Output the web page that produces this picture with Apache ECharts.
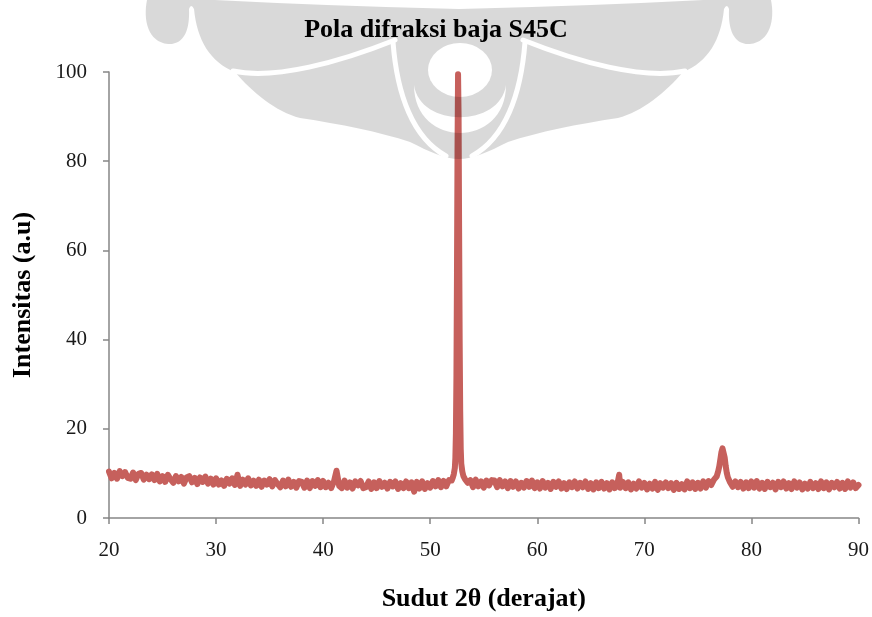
<!DOCTYPE html>
<html>
<head>
<meta charset="utf-8">
<script src="https://cdn.jsdelivr.net/npm/echarts@6/dist/echarts.min.js"></script>
<style>
html,body{margin:0;padding:0;background:#fff;}
#chart{width:872px;height:617px;}
</style>
</head>
<body>
<div id="chart"></div>
<script>
// ---- data ----
const chartTitle = 'Pola difraksi baja S45C';
const xAxisName = 'Sudut 2θ (derajat)';
const yAxisName = 'Intensitas (a.u)';
const xTicks = [20, 30, 40, 50, 60, 70, 80, 90];
const yTicks = [0, 20, 40, 60, 80, 100];

const angles = [
  20, 20.25, 20.5, 20.75, 21, 21.25, 21.5, 21.75,
  22, 22.25, 22.5, 22.75, 23, 23.25, 23.5, 23.75,
  24, 24.25, 24.5, 24.75, 25, 25.25, 25.5, 25.75,
  26, 26.25, 26.5, 26.75, 27, 27.25, 27.5, 27.75,
  28, 28.25, 28.5, 28.75, 29, 29.25, 29.5, 29.75,
  30, 30.25, 30.5, 30.75, 31, 31.25, 31.5, 31.75,
  32, 32.25, 32.5, 32.75, 33, 33.25, 33.5, 33.75,
  34, 34.25, 34.5, 34.75, 35, 35.25, 35.5, 35.75,
  36, 36.25, 36.5, 36.75, 37, 37.25, 37.5, 37.75,
  38, 38.25, 38.5, 38.75, 39, 39.25, 39.5, 39.75,
  40, 40.25, 40.5, 40.75, 41, 41.25, 41.5, 41.75,
  42, 42.25, 42.5, 42.75, 43, 43.25, 43.5, 43.75,
  44, 44.25, 44.5, 44.75, 45, 45.25, 45.5, 45.75,
  46, 46.25, 46.5, 46.75, 47, 47.25, 47.5, 47.75,
  48, 48.25, 48.5, 48.75, 49, 49.25, 49.5, 49.75,
  50, 50.25, 50.5, 50.75, 51, 51.25, 51.5, 51.75,
  52, 52.1, 52.2, 52.3, 52.35, 52.4, 52.45, 52.5, 52.55, 52.6, 52.65,
  52.7, 52.75, 52.8, 52.85, 52.9, 53, 53.1, 53.25, 53.5, 53.75,
  54, 54.25, 54.5, 54.75, 55, 55.25, 55.5, 55.75,
  56, 56.25, 56.5, 56.75, 57, 57.25, 57.5, 57.75,
  58, 58.25, 58.5, 58.75, 59, 59.25, 59.5, 59.75,
  60, 60.25, 60.5, 60.75, 61, 61.25, 61.5, 61.75,
  62, 62.25, 62.5, 62.75, 63, 63.25, 63.5, 63.75,
  64, 64.25, 64.5, 64.75, 65, 65.25, 65.5, 65.75,
  66, 66.25, 66.5, 66.75, 67, 67.25, 67.5, 67.65, 67.75,
  68, 68.25, 68.5, 68.75, 69, 69.25, 69.5, 69.75,
  70, 70.25, 70.5, 70.75, 71, 71.25, 71.5, 71.75,
  72, 72.25, 72.5, 72.75, 73, 73.25, 73.5, 73.75,
  74, 74.25, 74.5, 74.75, 75, 75.25, 75.5, 75.75,
  76, 76.25, 76.5, 76.75, 76.9, 77, 77.1, 77.2, 77.3,
  77.4, 77.5, 77.6, 77.7, 77.8, 78, 78.25, 78.5, 78.75,
  79, 79.25, 79.5, 79.75,
  80, 80.25, 80.5, 80.75, 81, 81.25, 81.5, 81.75,
  82, 82.25, 82.5, 82.75, 83, 83.25, 83.5, 83.75,
  84, 84.25, 84.5, 84.75, 85, 85.25, 85.5, 85.75,
  86, 86.25, 86.5, 86.75, 87, 87.25, 87.5, 87.75,
  88, 88.25, 88.5, 88.75, 89, 89.25, 89.5, 89.75,
  90
];

const intensity = [
  10.4, 8.9, 10.1, 8.8, 10.5, 9.4, 10.3, 9.0,
  8.8, 10.2, 8.5, 9.9, 10.1, 8.6, 9.7, 8.7,
  9.8, 8.5, 9.9, 8.2, 9.4, 8.1, 9.7, 8.7,
  7.9, 9.4, 8.2, 9.2, 7.7, 9.1, 9.4, 8.0,
  9.0, 7.6, 9.1, 8.1, 9.3, 7.7, 8.8, 7.5,
  8.9, 7.5, 8.4, 7.2, 8.8, 7.7, 8.9, 7.4,
  9.7, 7.2, 8.6, 7.5, 8.9, 7.3, 8.4, 7.2,
  8.6, 7.0, 8.4, 7.5, 8.7, 7.1, 8.5, 7.6,
  6.9, 8.4, 7.1, 8.6, 7.0, 8.1, 6.8, 8.3,
  8.1, 6.8, 8.4, 6.7, 8.3, 7.2, 8.5, 6.9,
  8.3, 6.9, 7.9, 6.7, 8.1, 10.6, 7.2, 6.7,
  8.4, 6.8, 8.0, 6.6, 8.2, 7.3, 8.3, 6.7,
  6.9, 8.2, 6.5, 8.0, 6.7, 8.3, 7.0, 7.9,
  6.6, 8.1, 7.1, 8.2, 6.5, 7.8, 6.7, 8.2,
  6.7, 8.0, 5.9, 8.1, 6.6, 8.2, 6.5, 7.8,
  6.8, 8.3, 7.1, 8.5, 6.9, 8.3, 7.1, 8.5,
  8.4, 9.0, 9.8, 11.2, 13.5, 19, 32, 55, 82, 99.5, 90,
  64, 40, 24, 15.5, 12.2, 10.4, 9.4, 8.7, 7.9, 8.5,
  6.9, 8.6, 7.1, 8.2, 6.8, 8.4, 7.3, 8.5,
  8.4, 6.9, 8.5, 7.1, 8.2, 6.7, 8.3, 7.0,
  8.2, 6.6, 7.9, 6.8, 8.3, 7.0, 8.4, 6.7,
  8.0, 6.6, 8.3, 6.8, 7.9, 6.5, 8.1, 7.0,
  8.2, 6.6, 7.8, 6.5, 8.0, 6.9, 8.2, 6.6,
  7.9, 6.9, 8.2, 6.5, 7.8, 6.4, 8.0, 6.7,
  8.1, 6.6, 7.8, 6.4, 8.0, 6.7, 7.9, 9.7, 6.8,
  8.1, 6.7, 8.0, 6.4, 7.7, 6.6, 8.2, 6.8,
  7.9, 6.4, 7.7, 6.6, 8.1, 6.3, 7.8, 6.8,
  8.0, 6.7, 7.8, 6.3, 7.9, 6.5, 7.6, 6.4,
  8.2, 6.7, 8.0, 6.5, 7.9, 6.6, 8.2, 6.8,
  8.3, 7.4, 8.6, 9.3, 10.5, 11.6, 13.2, 14.8, 15.6,
  15.2, 13.6, 11.6, 10.1, 9.1, 8.0, 7.0, 8.2, 6.9,
  8.1, 6.6, 8.0, 6.7,
  8.2, 6.8, 8.3, 6.6, 7.9, 6.5, 8.1, 6.9,
  7.9, 6.4, 8.1, 6.9, 8.2, 6.6, 7.8, 6.5,
  8.2, 6.8, 8.0, 6.4, 7.7, 6.6, 8.1, 6.7,
  7.8, 6.5, 8.2, 6.7, 8.0, 6.4, 7.9, 6.9,
  8.1, 6.6, 7.9, 6.5, 8.2, 6.8, 8.0, 6.7,
  7.4
];

// ---- decorative background watermark (logo silhouette) ----
function buildWatermark() {
  const c = document.createElement('canvas');
  c.width = 872; c.height = 617;
  const g = c.getContext('2d');
  const cx = 459;
  const start = [459, 9];
  const segs = [
    ['Q', [330, 6], [215, 0]],
    ['L', [147, 0]],
    ['C', [143, 20], [148, 42], [168, 44]],
    ['C', [184, 45], [190, 30], [189, 9]],
    ['Q', [191, 3], [194, 9]],
    ['C', [197, 40], [210, 62], [235, 72]],
    ['C', [252, 92], [276, 112], [300, 118]],
    ['C', [340, 124], [380, 132], [410, 142]],
    ['C', [430, 152], [445, 159], [459, 159]]
  ];
  const M = p => [2 * cx - p[0], p[1]];
  g.beginPath();
  g.moveTo(start[0], start[1]);
  const ends = [start];
  segs.forEach(s => {
    const p = s.slice(1);
    if (s[0] === 'L') g.lineTo(p[0][0], p[0][1]);
    if (s[0] === 'Q') g.quadraticCurveTo(p[0][0], p[0][1], p[1][0], p[1][1]);
    if (s[0] === 'C') g.bezierCurveTo(p[0][0], p[0][1], p[1][0], p[1][1], p[2][0], p[2][1]);
    ends.push(p[p.length - 1]);
  });
  for (let i = segs.length - 1; i >= 0; i--) {
    const s = segs[i];
    const p = s.slice(1);
    const to = M(ends[i]);
    if (s[0] === 'L') g.lineTo(to[0], to[1]);
    if (s[0] === 'Q') { const q = M(p[0]); g.quadraticCurveTo(q[0], q[1], to[0], to[1]); }
    if (s[0] === 'C') { const a = M(p[1]), b = M(p[0]); g.bezierCurveTo(a[0], a[1], b[0], b[1], to[0], to[1]); }
  }
  g.closePath();
  g.fillStyle = 'rgba(0,0,0,0.15)';
  g.fill();

  g.globalCompositeOperation = 'destination-out';
  g.strokeStyle = '#000';
  g.fillStyle = '#000';
  g.lineCap = 'round';
  [false, true].forEach(mir => {
    const T = p => mir ? M(p) : p;
    g.lineWidth = 5;
    g.beginPath();
    let a = T([233, 71]), b = T([275, 80]), d = T([340, 62]), e = T([395, 40]);
    g.moveTo(a[0], a[1]); g.bezierCurveTo(b[0], b[1], d[0], d[1], e[0], e[1]);
    g.stroke();
    g.beginPath();
    a = T([393, 42]); b = T([397, 95]); d = T([413, 138]); e = T([446, 156]);
    g.moveTo(a[0], a[1]); g.bezierCurveTo(b[0], b[1], d[0], d[1], e[0], e[1]);
    g.stroke();
  });
  g.beginPath();
  g.ellipse(460, 70, 32, 27, 0, 0, Math.PI * 2);
  g.fill();
  g.beginPath();
  g.moveTo(414, 85);
  g.bezierCurveTo(414, 149, 506, 149, 506, 85);
  g.bezierCurveTo(500, 128, 420, 128, 414, 85);
  g.closePath();
  g.fill();
  g.globalCompositeOperation = 'source-over';
  return c;
}

const serif = "'Liberation Serif', 'Times New Roman', 'DejaVu Serif', serif";
const chart = echarts.init(document.getElementById('chart'), null, { renderer: 'canvas' });
const seriesData = angles.map((a, i) => [a, intensity[i]]);

chart.setOption({
  animation: false,
  backgroundColor: '#ffffff',
  title: {
    text: chartTitle,
    left: 'center',
    top: 12,
    textStyle: { fontFamily: serif, fontWeight: 'bold', fontSize: 26, color: '#000' }
  },
  grid: { left: 109, right: 13, top: 72, bottom: 99, containLabel: false },
  xAxis: {
    type: 'value',
    min: xTicks[0],
    max: xTicks[xTicks.length - 1],
    interval: 10,
    name: xAxisName,
    nameLocation: 'middle',
    nameGap: 68,
    nameTextStyle: { fontFamily: serif, fontWeight: 'bold', fontSize: 26, color: '#000' },
    axisLine: { show: true, lineStyle: { color: '#868686', width: 1.5 } },
    axisTick: { show: true, inside: false, length: 6, lineStyle: { color: '#868686', width: 1.5 } },
    axisLabel: { margin: 22, fontFamily: serif, fontSize: 21, color: '#1a1a1a' },
    splitLine: { show: false }
  },
  yAxis: {
    type: 'value',
    min: yTicks[0],
    max: yTicks[yTicks.length - 1],
    interval: 20,
    name: yAxisName,
    nameLocation: 'middle',
    nameGap: 73,
    nameRotate: 90,
    nameTextStyle: { fontFamily: serif, fontWeight: 'bold', fontSize: 26, color: '#000' },
    axisLine: { show: true, lineStyle: { color: '#868686', width: 1.5 } },
    axisTick: { show: true, inside: false, length: 6, lineStyle: { color: '#868686', width: 1.5 } },
    axisLabel: { margin: 22, fontFamily: serif, fontSize: 21, color: '#1a1a1a' },
    splitLine: { show: false }
  },
  graphic: [{
    type: 'image',
    left: 0,
    top: 0,
    z: 100,
    silent: true,
    style: { image: buildWatermark(), width: 872, height: 617 }
  }],
  series: [{
    type: 'line',
    data: seriesData,
    showSymbol: false,
    symbol: 'none',
    sampling: null,
    lineStyle: { color: '#c6605c', width: 6, join: 'round', cap: 'round' },
    z: 2
  }]
});
</script>
</body>
</html>
